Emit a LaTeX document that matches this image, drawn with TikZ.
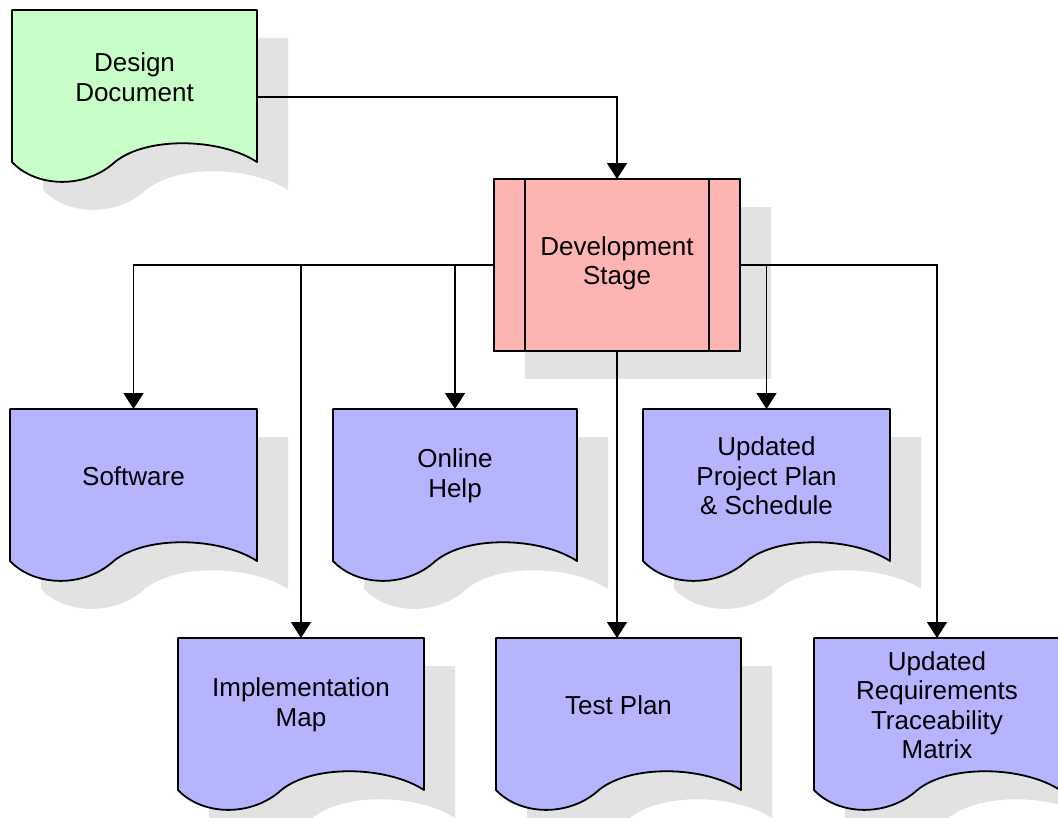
\documentclass[tikz,border=0pt]{standalone}
\usepackage{fontspec}
\setmainfont{Liberation Sans}
\usetikzlibrary{arrows.meta,calc}
\pgfdeclarelayer{shadowlayer}
\pgfdeclarelayer{background}
\pgfsetlayers{shadowlayer,background,main}
\definecolor{docgreen}{RGB}{200,255,200}
\definecolor{docblue}{RGB}{180,180,255}
\definecolor{stagepink}{RGB}{255,180,180}
\definecolor{shadowgray}{RGB}{226,226,226}
\tikzset{
  boxarea/.style={draw=none, inner sep=0pt, outer sep=0pt},
  doctext/.style={align=center, inner sep=0pt, font=\fontsize{26}{29.5}\selectfont},
  docline/.style={draw=black, line width=1.8pt, line join=round},
  arr/.style={line width=1.6pt, -{Triangle[width=20pt,length=16pt]}},
}
% #1 name, #2 left, #3 top, #4 right, #5 fill, #6 text
\newcommand{\docbox}[6]{%
  \begin{pgfonlayer}{shadowlayer}
    \fill[shadowgray, shift={(31,28)}] (#2,#3) -- (#2,{#3+152})
      .. controls ({#2+0.1*(#4-#2)},{#3+152+26}) and ({#2+0.3*(#4-#2)},{#3+152+27}) .. ({#2+0.42*(#4-#2)},{#3+152})
      .. controls ({#2+0.55*(#4-#2)},{#3+152-26}) and ({#2+0.85*(#4-#2)},{#3+152-24}) .. (#4,{#3+152})
      -- (#4,#3) -- cycle;
  \end{pgfonlayer}
  \begin{pgfonlayer}{background}
    \path[docline, fill=#5] (#2,#3) -- (#2,{#3+152})
      .. controls ({#2+0.1*(#4-#2)},{#3+152+26}) and ({#2+0.3*(#4-#2)},{#3+152+27}) .. ({#2+0.42*(#4-#2)},{#3+152})
      .. controls ({#2+0.55*(#4-#2)},{#3+152-26}) and ({#2+0.85*(#4-#2)},{#3+152-24}) .. (#4,{#3+152})
      -- (#4,#3) -- cycle;
  \end{pgfonlayer}
  \node[boxarea, minimum width={(#4-#2)*1pt}, minimum height=152pt] (#1) at ({(#2+#4)/2},{#3+76}) {};
  \node[doctext] (#1-t) at ({(#2+#4)/2},{#3+67}) {#6};
}
\begin{document}
\begin{tikzpicture}[x=1pt, y=-1pt]
\useasboundingbox (0,0) rectangle (1058,817);
\clip (0,0) rectangle (1058,817);

% Design document
\docbox{dd}{12}{10}{257}{docgreen}{Design\\Document}

% Development stage
\begin{pgfonlayer}{shadowlayer}
  \fill[shadowgray] (525,207) rectangle (771,379);
\end{pgfonlayer}
\node[draw, line width=2.2pt, fill=stagepink, minimum width=246pt, minimum height=172pt, inner sep=0pt, outer sep=0pt] (ds) at (617,265) {};
\draw[line width=1.6pt] ([xshift=31pt]ds.north west) -- ([xshift=31pt]ds.south west);
\draw[line width=1.6pt] ([xshift=-31pt]ds.north east) -- ([xshift=-31pt]ds.south east);
\node[doctext] (ds-t) at (617,263.5) {Development\\Stage};

% Outputs, first row
\docbox{sw}{10}{409}{257}{docblue}{Software}
\docbox{oh}{333}{409}{577}{docblue}{Online\\Help}
\docbox{pp}{643}{409}{890}{docblue}{Updated\\Project Plan\\\& Schedule}

% Outputs, second row
\docbox{im}{178}{638}{424}{docblue}{Implementation\\Map}
\docbox{tp}{496}{638}{741}{docblue}{Test Plan}
\docbox{rq}{814}{638}{1060}{docblue}{Updated\\Requirements\\Traceability\\Matrix}

% Connectors
\draw[arr] ([yshift=-11pt]dd.east) -| (ds.north);
\draw[arr] (ds.west) -| (sw.north);
\draw[arr] (ds.west) -| (im.north);
\draw[arr] (ds.west) -| (oh.north);
\draw[arr] (ds.south) -- (ds.south |- tp.north);
\draw[arr] (ds.east) -| (pp.north);
\draw[arr] (ds.east) -| (rq.north);
\end{tikzpicture}
\end{document}
